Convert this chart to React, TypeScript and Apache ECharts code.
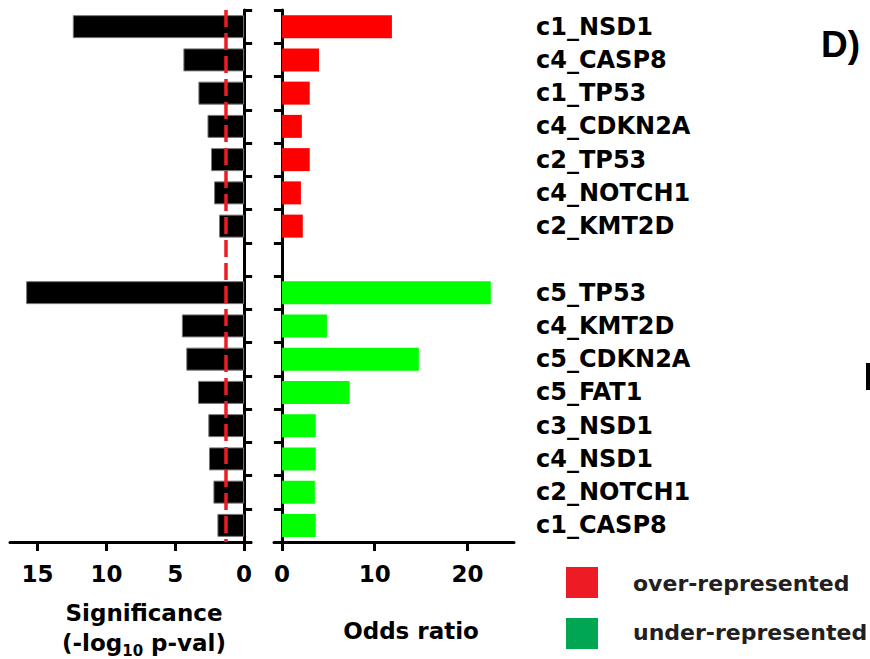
import React, { useEffect, useRef } from "react";
import * as echarts from "echarts";

const overGenes = ["c1_NSD1", "c4_CASP8", "c1_TP53", "c4_CDKN2A", "c2_TP53", "c4_NOTCH1", "c2_KMT2D"];
const overSig = [12.44, 4.41, 3.32, 2.66, 2.4, 2.18, 1.82];
const overOdds = [11.85, 4.0, 3.0, 2.15, 3.0, 2.05, 2.25];

const underGenes = ["c5_TP53", "c4_KMT2D", "c5_CDKN2A", "c5_FAT1", "c3_NSD1", "c4_NSD1", "c2_NOTCH1", "c1_CASP8"];
const underSig = [15.83, 4.52, 4.2, 3.35, 2.6, 2.55, 2.23, 1.94];
const underOdds = [22.5, 4.85, 14.75, 7.3, 3.65, 3.65, 3.55, 3.65];

const sigTicks = [0, 5, 10, 15];
const oddsTicks = [0, 10, 20];
const sigThreshold = 1.3; // -log10(0.05)

const FONT = "DejaVu Sans";

export default function App() {
  const ref = useRef<HTMLDivElement>(null);

  useEffect(() => {
    if (!ref.current) return;
    const chart = echarts.init(ref.current, null, { renderer: "svg" });
    const categories = [...overGenes, "", ...underGenes];
    const sigData = [...overSig, "-", ...underSig];
    const overData = [...overOdds, "-", ...underGenes.map(() => "-")];
    const underData = [...overGenes.map(() => "-"), "-", ...underOdds];

    const axisLine = { lineStyle: { color: "#000", width: 3 } };
    const tickLabel = { fontSize: 23, fontWeight: "bold", fontFamily: FONT, color: "#000" };

    const option: any = {
      animation: false,
      backgroundColor: "#fff",
      grid: [
        { left: 10, top: 10, width: 241, height: 532, containLabel: false, outerBoundsMode: "none" },
        { left: 274, top: 10, width: 240, height: 532, containLabel: false, outerBoundsMode: "none" },
      ],
      xAxis: [
        {
          gridIndex: 0,
          type: "value",
          inverse: true,
          min: -0.5,
          max: 17,
          axisLine: { show: true, onZero: false, ...axisLine },
          axisTick: { show: true, length: 9, lineStyle: { color: "#000", width: 3 }, customValues: sigTicks },
          axisLabel: { ...tickLabel, margin: 20, customValues: sigTicks },
          splitLine: { show: false },
        },
        {
          gridIndex: 1,
          type: "value",
          min: -0.85,
          max: 25,
          axisLine: { show: true, onZero: false, ...axisLine },
          axisTick: { show: true, length: 9, lineStyle: { color: "#000", width: 3 }, customValues: oddsTicks },
          axisLabel: { ...tickLabel, margin: 20, customValues: oddsTicks },
          splitLine: { show: false },
        },
      ],
      yAxis: [
        {
          gridIndex: 0,
          type: "category",
          data: categories,
          inverse: true,
          position: "right",
          axisLine: { show: true, onZero: true, ...axisLine },
          axisTick: { show: true, length: 8, lineStyle: { color: "#000", width: 3 } },
          axisLabel: { show: false },
          splitLine: { show: false },
        },
        {
          gridIndex: 1,
          type: "category",
          data: categories,
          inverse: true,
          position: "left",
          axisLine: { show: true, onZero: true, ...axisLine },
          axisTick: { show: true, length: 8, lineStyle: { color: "#000", width: 3 } },
          axisLabel: { show: false },
          splitLine: { show: false },
        },
        {
          gridIndex: 1,
          type: "category",
          data: categories,
          inverse: true,
          position: "right",
          axisLine: { show: false, onZero: false },
          axisTick: { show: false },
          axisLabel: { show: true, margin: 22, fontSize: 24, fontWeight: "bold", fontFamily: FONT, color: "#000", align: "left" },
          splitLine: { show: false },
        },
      ],
      series: [
        {
          name: "significance",
          type: "bar",
          xAxisIndex: 0,
          yAxisIndex: 0,
          data: sigData,
          barWidth: 23,
          itemStyle: { color: "#000", borderColor: "#777", borderWidth: 1 },
          markLine: {
            silent: true,
            symbol: "none",
            label: { show: false },
            emphasis: { disabled: true },
            lineStyle: { color: "#ed1c24", width: 3.5, type: [17, 6], opacity: 1 },
            data: [{ xAxis: sigThreshold }],
          },
        },
        {
          name: "over-represented",
          type: "bar",
          xAxisIndex: 1,
          yAxisIndex: 1,
          data: overData,
          barWidth: 23,
          barGap: "-100%",
          itemStyle: { color: "#ff0000" },
        },
        {
          name: "under-represented",
          type: "bar",
          xAxisIndex: 1,
          yAxisIndex: 1,
          data: underData,
          barWidth: 23,
          barGap: "-100%",
          itemStyle: { color: "#00ff00" },
        },
      ],
      graphic: [
        {
          type: "text",
          x: 144,
          y: 613,
          style: { text: "Significance", font: `bold 23px "${FONT}"`, fill: "#000", align: "center", verticalAlign: "middle" },
        },
        {
          type: "text",
          x: 144,
          y: 643,
          style: {
            text: "{n|(-log}{s|10}{n| p-val)}",
            align: "center",
            verticalAlign: "middle",
            fill: "#000",
            rich: {
              n: { fontSize: 23, fontWeight: "bold", fontFamily: FONT, lineHeight: 30, verticalAlign: "middle" },
              s: { fontSize: 15, fontWeight: "bold", fontFamily: FONT, lineHeight: 15, verticalAlign: "bottom" },
            },
          },
        },
        {
          type: "text",
          x: 411,
          y: 631,
          style: { text: "Odds ratio", font: `bold 23px "${FONT}"`, fill: "#000", align: "center", verticalAlign: "middle" },
        },
        { type: "rect", shape: { x: 566, y: 567, width: 32, height: 31 }, style: { fill: "#ed1c24" } },
        { type: "rect", shape: { x: 566, y: 618, width: 32, height: 31 }, style: { fill: "#00a651" } },
        {
          type: "text",
          x: 633,
          y: 583,
          style: { text: "over-represented", font: `bold 22px "${FONT}"`, fill: "#231f20", align: "left", verticalAlign: "middle" },
        },
        {
          type: "text",
          x: 633,
          y: 632,
          style: { text: "under-represented", font: `bold 22px "${FONT}"`, fill: "#231f20", align: "left", verticalAlign: "middle" },
        },
        {
          type: "text",
          x: 821,
          y: 44,
          style: { text: "D)", font: `bold 37px "Liberation Sans"`, fill: "#000", align: "left", verticalAlign: "middle" },
        },
        { type: "rect", shape: { x: 866, y: 363, width: 4, height: 27 }, style: { fill: "#000" } },
      ],
    };
    chart.setOption(option);
    return () => chart.dispose();
  }, []);

  return <div ref={ref} style={{ position: "fixed", left: 0, top: 0, width: 870, height: 659 }} />;
}
